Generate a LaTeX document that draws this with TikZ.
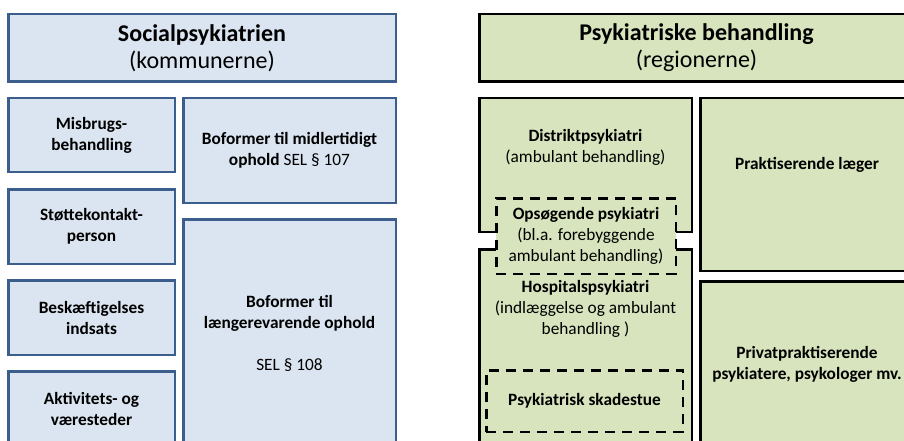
\documentclass[tikz,border=0pt]{standalone}
\usepackage{fontspec}
\setmainfont{Carlito}
\definecolor{bborder}{HTML}{3B5E8C}
\definecolor{bfill}{HTML}{DBE5F1}
\definecolor{gfill}{HTML}{D7E4BD}
\begin{document}
\begin{tikzpicture}[x=1pt,y=-1pt,
  bluebox/.style={draw=bborder, fill=bfill, line width=2.5pt, inner sep=0pt, align=center,
     font=\bfseries\fontsize{17.3}{21}\selectfont},
  greenbox/.style={draw=black, fill=gfill, line width=2.5pt, inner sep=0pt, align=center,
     font=\bfseries\fontsize{17.3}{21}\selectfont},
  dashbox/.style={greenbox, dash pattern=on 10pt off 7pt},
  headfont/.style={font=\fontsize{24}{27}\selectfont},
  txt/.style={align=center, inner sep=0pt, font=\fontsize{17.3}{21}\selectfont}]
\useasboundingbox (0,0) rectangle (904,441);
\clip (0,0) rectangle (904,441);
% left column
\node[bluebox, headfont, minimum width=387.5pt, minimum height=67.5pt] (lhead) at (202,48)
  {\textbf{Socialpsykiatrien}\\\mdseries(kommunerne)};
\node[bluebox, minimum width=166.5pt, minimum height=73.5pt] (misb) at (91.5,135) {Misbrugs-\\behandling};
\node[bluebox, minimum width=166.5pt, minimum height=74.5pt] (stoette) at (91.5,226.5) {Støttekontakt-\\person};
\node[bluebox, minimum width=166.5pt, minimum height=74.5pt] (besk) at (91.5,317.5) {Beskæftigelses\\indsats};
\node[bluebox, minimum width=166.5pt, minimum height=74.5pt] (aktiv) at (91.5,408.5) {Aktivitets- og\\væresteder};
\node[bluebox, minimum width=212.5pt, minimum height=104.5pt] (bof1) at (289.5,150.5)
  {Boformer til midlertidigt\\ophold \mdseries SEL § 107};
\node[bluebox, minimum width=212.5pt, minimum height=228.5pt] (bof2) at (289.5,333.5)
  {Boformer til\\længerevarende ophold\\[21pt]\mdseries SEL § 108};
% right column
\node[greenbox, headfont, minimum width=434.5pt, minimum height=67.5pt] (rhead) at (696.5,48)
  {\textbf{Psykiatriske behandling}\\\mdseries(regionerne)};
\node[greenbox, minimum width=212.5pt, minimum height=133.5pt] (distr) at (585.5,165) {};
\node[greenbox, minimum width=212.5pt, minimum height=198.5pt] (hosp) at (585.5,348.5) {};
\node[txt] (distrtxt) at (585.5,147) {\textbf{Distriktpsykiatri}\\(ambulant behandling)};
\node[txt] (hosptxt) at (585.5,309) {\textbf{Hospitalspsykiatri}\\(indlæggelse og ambulant\\behandling )};
\node[dashbox, minimum width=179.5pt, minimum height=75.5pt, font=\fontsize{17.3}{21}\selectfont] (opsoeg) at (586,236)
  {\textbf{Opsøgende psykiatri}\\(bl.a. forebyggende\\ambulant behandling)};
\node[dashbox, minimum width=196.5pt, minimum height=61.5pt] (skade) at (584.5,401) {Psykiatrisk skadestue};
\node[greenbox, minimum width=213.5pt, minimum height=172.5pt] (prakt) at (807,184.5) {};
\node[txt, font=\bfseries\fontsize{17.3}{21}\selectfont] (prakttxt) at (807,165) {Praktiserende læger};
\node[greenbox, minimum width=213.5pt, minimum height=166.5pt] (privat) at (807,364.5)
  {Privatpraktiserende\\psykiatere, psykologer mv.};
\end{tikzpicture}
\end{document}
